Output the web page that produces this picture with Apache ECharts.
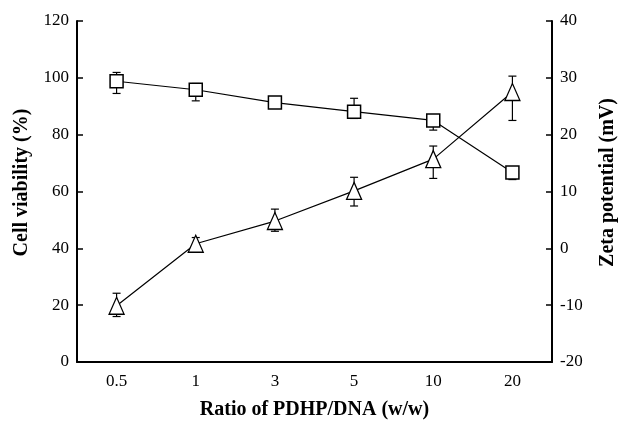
<!DOCTYPE html>
<html>
<head>
<meta charset="utf-8">
<script src="https://cdn.jsdelivr.net/npm/echarts@6/dist/echarts.min.js"></script>
<style>html,body{margin:0;padding:0;background:#fff;}#c{width:618px;height:423px;}</style>
</head>
<body>
<div id="c"></div>
<script>
const categories = ['0.5', '1', '3', '5', '10', '20'];
const viability = [98.8, 95.8, 91.3, 88.1, 85.0, 66.7];
const viabilityHigh = [101.9, 98.0, 92.8, 92.8, 86.5, 67.8];
const viabilityLow = [94.5, 91.9, 89.8, 85.7, 81.6, 64.2];
const zeta = [-10.1, 0.8, 4.8, 10.1, 15.7, 27.5];
const zetaHigh = [-7.9, 1.9, 6.9, 12.5, 18.0, 30.3];
const zetaLow = [-12.0, -0.4, 3.0, 7.45, 12.3, 22.5];
const leftTicks = { min: 0, max: 120, interval: 20 };
const rightTicks = { min: -20, max: 40, interval: 10 };

const FONT = 'Liberation Serif';

function errData(low, high) {
  return categories.map((c, i) => [i, low[i], high[i]]);
}
function errRender(params, api) {
  const x = api.value(0);
  const p1 = api.coord([x, api.value(1)]);
  const p2 = api.coord([x, api.value(2)]);
  const w = 4;
  const st = { stroke: '#000', lineWidth: 1.2 };
  return {
    type: 'group',
    children: [
      { type: 'line', shape: { x1: p1[0], y1: p1[1], x2: p2[0], y2: p2[1] }, style: st },
      { type: 'line', shape: { x1: p1[0] - w, y1: p1[1], x2: p1[0] + w, y2: p1[1] }, style: st },
      { type: 'line', shape: { x1: p2[0] - w, y1: p2[1], x2: p2[0] + w, y2: p2[1] }, style: st }
    ]
  };
}

const titleStyle = { fontFamily: FONT, fontWeight: 'bold', fontSize: 20, color: '#000' };
const yTitleStyle = Object.assign({}, titleStyle, { padding: [0, 0, 0, 18] });

const chart = echarts.init(document.getElementById('c'), null, { renderer: 'canvas' });
chart.setOption({
  backgroundColor: '#fff',
  animation: false,
  grid: { left: 77, right: 66, top: 21, bottom: 61, containLabel: false, outerBoundsMode: 'none' },
  xAxis: {
    type: 'category',
    data: categories,
    boundaryGap: true,
    name: 'Ratio of PDHP/DNA (w/w)',
    nameLocation: 'middle',
    nameGap: 38,
    nameTextStyle: titleStyle,
    axisLine: { lineStyle: { color: '#000', width: 2 } },
    axisTick: { show: false },
    axisLabel: { fontFamily: FONT, fontSize: 17, color: '#000', margin: 11 },
    splitLine: { show: false }
  },
  yAxis: [
    {
      type: 'value',
      min: leftTicks.min, max: leftTicks.max, interval: leftTicks.interval,
      name: 'Cell viability (%)',
      nameLocation: 'middle',
      nameGap: 45,
      nameRotate: 90,
      nameTextStyle: yTitleStyle,
      axisLine: { show: true, lineStyle: { color: '#000', width: 2 } },
      axisTick: { show: true, inside: true, length: 6, lineStyle: { color: '#000', width: 1.5 } },
      axisLabel: { fontFamily: FONT, fontSize: 17, color: '#000', margin: 8 },
      splitLine: { show: false }
    },
    {
      type: 'value',
      position: 'right',
      min: rightTicks.min, max: rightTicks.max, interval: rightTicks.interval,
      name: 'Zeta potential (mV)',
      nameLocation: 'middle',
      nameGap: 46,
      nameRotate: 90,
      nameTextStyle: yTitleStyle,
      axisLine: { show: true, lineStyle: { color: '#000', width: 2 } },
      axisTick: { show: true, inside: true, length: 6, lineStyle: { color: '#000', width: 1.5 } },
      axisLabel: { fontFamily: FONT, fontSize: 17, color: '#000', margin: 8 },
      splitLine: { show: false }
    }
  ],
  series: [
    {
      type: 'custom', yAxisIndex: 0, z: 1,
      renderItem: errRender,
      data: errData(viabilityLow, viabilityHigh)
    },
    {
      type: 'custom', yAxisIndex: 1, z: 1,
      renderItem: errRender,
      data: errData(zetaLow, zetaHigh)
    },
    {
      name: 'Cell viability', type: 'line', yAxisIndex: 0, z: 3,
      data: viability,
      symbol: 'rect', symbolSize: 13,
      showAllSymbol: true,
      lineStyle: { color: '#000', width: 1.2 },
      itemStyle: { color: '#fff', borderColor: '#000', borderWidth: 1.5 }
    },
    {
      name: 'Zeta potential', type: 'line', yAxisIndex: 1, z: 3,
      data: zeta,
      symbol: 'triangle', symbolSize: [15, 17],
      showAllSymbol: true,
      lineStyle: { color: '#000', width: 1.2 },
      itemStyle: { color: '#fff', borderColor: '#000', borderWidth: 1.3 }
    }
  ]
});
</script>
</body>
</html>
